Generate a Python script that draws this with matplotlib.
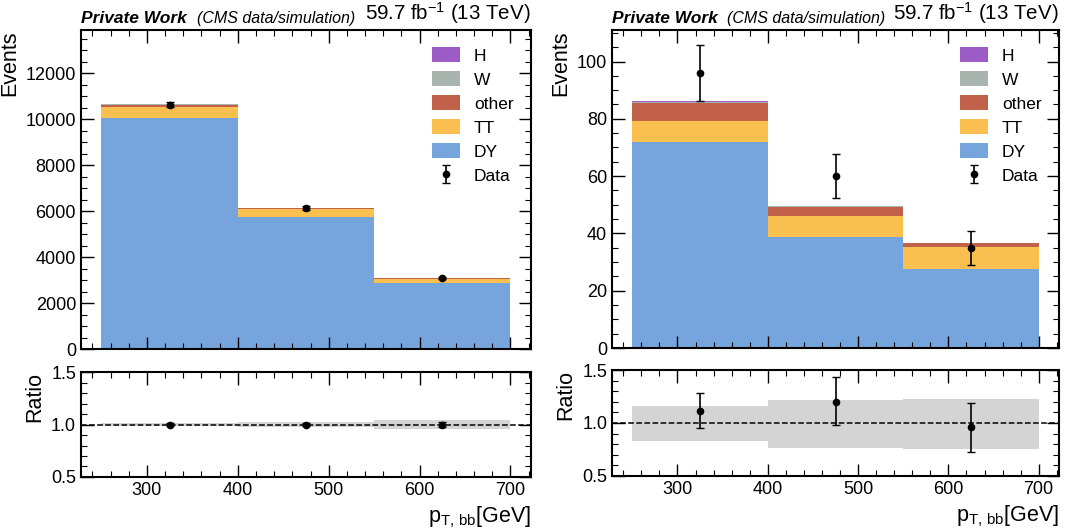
import numpy as np
import matplotlib.pyplot as plt
from matplotlib.ticker import MultipleLocator

plt.rcParams['font.family'] = ['Liberation Sans', 'DejaVu Sans']
plt.rcParams['mathtext.fontset'] = 'custom'
plt.rcParams['mathtext.rm'] = 'Liberation Sans'
plt.rcParams['mathtext.it'] = 'Liberation Sans:italic'

# binning in pT,bb [GeV]
edges = np.array([250, 400, 550, 700])
centers = np.array([325, 475, 625])

# left panel (events per bin)
l_dy = [10050, 5750, 2855]
l_tt = [485, 325, 175]
l_other = [95, 60, 55]
l_w = [12, 6, 4]
l_h = [3, 2, 1]
l_data = [10620, 6130, 3080]
l_data_err = [103, 78, 55]
l_ratio = [1.0, 1.0, 1.0]
l_ratio_err = [0.010, 0.015, 0.025]
l_band = [0.012, 0.02, 0.04]

# right panel
r_dy = [71.9, 38.6, 27.6]
r_tt = [7.5, 7.6, 7.5]
r_other = [6.2, 3.1, 1.4]
r_w = [0.4, 0.3, 0.2]
r_h = [0.1, 0.1, 0.1]
r_data = [96, 60, 35]
r_data_err = [9.8, 7.75, 5.9]
r_ratio = [1.116, 1.20, 0.96]
r_ratio_lo = [0.163, 0.22, 0.23]
r_ratio_hi = [0.164, 0.23, 0.23]
r_band_lo = [0.17, 0.234, 0.243]
r_band_hi = [0.16, 0.22, 0.23]

names = ['DY', 'TT', 'other', 'W', 'H']
colors = ['#76a5dd', '#f9c04f', '#c2614a', '#a9b4ae', '#9c5cc6']

fig = plt.figure(figsize=(10.67, 5.31), dpi=100)


def style(ax, ymajor, yminor):
    ax.xaxis.set_major_locator(MultipleLocator(100))
    ax.xaxis.set_minor_locator(MultipleLocator(20))
    ax.yaxis.set_major_locator(MultipleLocator(ymajor))
    ax.yaxis.set_minor_locator(MultipleLocator(yminor))
    ax.tick_params(which='both', direction='in', top=True, right=True, labelsize=13)
    ax.tick_params(which='major', length=9, width=1.0)
    ax.tick_params(which='minor', length=4.5, width=0.8)
    for s in ax.spines.values():
        s.set_linewidth(1.5)
    ax.set_xlim(227.5, 722.5)


def panel(x0, w, main_y, ratio_y, stacks, data, derr, ylim, ymaj, ymin,
          ratio, rlo, rhi, blo, bhi):
    ax = fig.add_axes([x0, main_y[0], w, main_y[1]])
    rax = fig.add_axes([x0, ratio_y[0], w, ratio_y[1]])

    base = np.zeros(3)
    for vals, name, c in zip(stacks, names, colors):
        top = base + np.array(vals)
        ax.stairs(top, edges, baseline=base, fill=True, color=c, label=name, lw=0)
        base = top
    ax.errorbar(centers, data, yerr=derr, fmt='o', color='black', ms=4.5,
                capsize=3, elinewidth=1.2, label='Data')
    style(ax, ymaj, ymin)
    ax.set_ylim(0, ylim)
    ax.tick_params(labelbottom=False)
    ax.set_ylabel('Events', fontsize=15.5, loc='top')
    h, l = ax.get_legend_handles_labels()
    order = [4, 3, 2, 1, 0, 5]
    ax.legend([h[i] for i in order], [l[i] for i in order], loc='upper right',
              frameon=False, fontsize=12.5, handlelength=1.6, handleheight=0.9,
              labelspacing=0.45, borderaxespad=0.6)
    ax.text(0.0, 1.012, 'Private Work', transform=ax.transAxes, fontsize=12.5,
            fontweight='bold', fontstyle='italic', ha='left', va='bottom')
    ax.text(0.257, 1.012, '(CMS data/simulation)', transform=ax.transAxes,
            fontsize=11.5, fontstyle='italic', ha='left', va='bottom')
    ax.text(1.0, 1.012, '59.7 fb$^{-1}$ (13 TeV)', transform=ax.transAxes,
            fontsize=14.8, ha='right', va='bottom')

    rax.stairs(1 + np.array(bhi), edges, baseline=1 - np.array(blo), fill=True,
               color='#d4d4d4', lw=0)
    rax.axhline(1.0, color='black', ls='--', lw=1.1)
    rax.errorbar(centers, ratio, yerr=[rlo, rhi], fmt='o', color='black', ms=4.5,
                 capsize=3, elinewidth=1.2)
    style(rax, 0.5, 0.1)
    rax.set_ylim(0.5, 1.5)
    rax.set_ylabel('Ratio', fontsize=15.5, loc='top')
    rax.set_xlabel('p$_{\\mathrm{T,\\,bb}}$[GeV]', fontsize=15.5, loc='right')
    return ax, rax


panel(0.0759, 0.4217, (0.3427, 0.6008), (0.1017, 0.1977),
      [l_dy, l_tt, l_other, l_w, l_h], l_data, l_data_err, 13870, 2000, 500,
      l_ratio, l_ratio_err, l_ratio_err, l_band, l_band)
panel(0.5736, 0.4189, (0.3446, 0.5989), (0.1036, 0.1996),
      [r_dy, r_tt, r_other, r_w, r_h], r_data, r_data_err, 111, 20, 5,
      r_ratio, r_ratio_lo, r_ratio_hi, r_band_lo, r_band_hi)

fig.savefig('out.png', dpi=100)
